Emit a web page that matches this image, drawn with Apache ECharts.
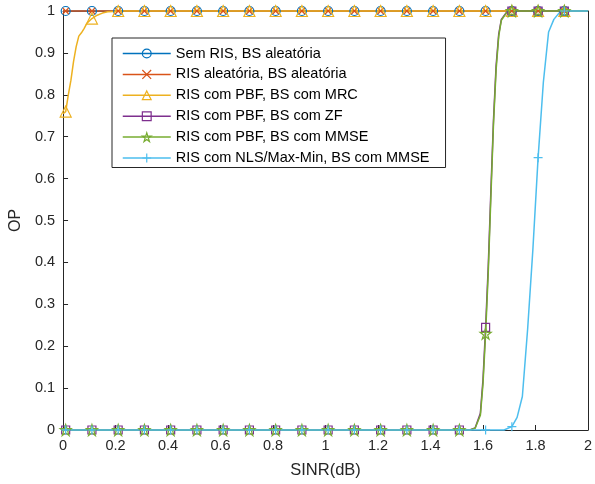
<!DOCTYPE html>
<html>
<head>
<meta charset="utf-8">
<script src="https://cdn.jsdelivr.net/npm/echarts@6/dist/echarts.min.js"></script>
<style>
html, body { margin: 0; padding: 0; background: #fff; overflow: hidden; }
#chart { width: 595px; height: 484px; }
</style>
</head>
<body>
<div id="chart"></div>
<script>
// marker positions (every 10th sample, starting at 0.01)
const markerX = [0.01, 0.11, 0.21, 0.31, 0.41, 0.51, 0.61, 0.71, 0.81, 0.91,
  1.01, 1.11, 1.21, 1.31, 1.41, 1.51, 1.61, 1.71, 1.81, 1.91];

const xTicks = [0, 0.2, 0.4, 0.6, 0.8, 1, 1.2, 1.4, 1.6, 1.8, 2];

const semRisX = [0, 0.01, 0.11, 0.21, 0.31, 0.41, 0.51, 0.61, 0.71, 0.81, 0.91,
  1.01, 1.11, 1.21, 1.31, 1.41, 1.51, 1.61, 1.71, 1.81, 1.91, 2];
const semRisY = [1, 1, 1, 1, 1, 1, 1, 1, 1, 1, 1, 1, 1, 1, 1, 1, 1, 1, 1, 1, 1, 1];

const risAleatX = [0, 0.01, 0.11, 0.21, 0.31, 0.41, 0.51, 0.61, 0.71, 0.81, 0.91,
  1.01, 1.11, 1.21, 1.31, 1.41, 1.51, 1.61, 1.71, 1.81, 1.91, 2];
const risAleatY = [1, 1, 1, 1, 1, 1, 1, 1, 1, 1, 1, 1, 1, 1, 1, 1, 1, 1, 1, 1, 1, 1];

const mrcX = [0, 0.01, 0.02, 0.03, 0.04, 0.05, 0.06, 0.07, 0.08, 0.09, 0.1, 0.11,
  0.13, 0.15, 0.17, 0.19, 0.21, 0.31, 0.41, 0.51, 0.61, 0.71, 0.81, 0.91,
  1.01, 1.11, 1.21, 1.31, 1.41, 1.51, 1.61, 1.71, 1.81, 1.91, 2];
const mrcY = [0.755, 0.76, 0.80, 0.835, 0.88, 0.915, 0.94, 0.948, 0.958, 0.97, 0.976, 0.982,
  0.99, 0.995, 0.998, 0.999, 1, 1, 1, 1, 1, 1, 1, 1,
  1, 1, 1, 1, 1, 1, 1, 1, 1, 1, 1];

const zfX = [0, 0.01, 0.11, 0.21, 0.31, 0.41, 0.51, 0.61, 0.71, 0.81, 0.91,
  1.01, 1.11, 1.21, 1.31, 1.41, 1.51, 1.55, 1.57, 1.59, 1.60, 1.61, 1.62, 1.63,
  1.64, 1.65, 1.66, 1.67, 1.69, 1.71, 1.81, 1.91, 2];
const zfY = [0, 0, 0, 0, 0, 0, 0, 0, 0, 0, 0,
  0, 0, 0, 0, 0, 0, 0, 0.005, 0.04, 0.12, 0.245, 0.39, 0.57,
  0.74, 0.87, 0.945, 0.98, 0.997, 1, 1, 1, 1];

const mmseX = [0, 0.01, 0.11, 0.21, 0.31, 0.41, 0.51, 0.61, 0.71, 0.81, 0.91,
  1.01, 1.11, 1.21, 1.31, 1.41, 1.51, 1.55, 1.57, 1.59, 1.60, 1.61, 1.62, 1.63,
  1.64, 1.65, 1.66, 1.67, 1.69, 1.71, 1.81, 1.91, 2];
const mmseY = [0, 0, 0, 0, 0, 0, 0, 0, 0, 0, 0,
  0, 0, 0, 0, 0, 0, 0, 0.004, 0.035, 0.11, 0.23, 0.375, 0.555,
  0.73, 0.86, 0.94, 0.978, 0.996, 1, 1, 1, 1];

const nlsX = [0, 0.01, 0.11, 0.21, 0.31, 0.41, 0.51, 0.61, 0.71, 0.81, 0.91,
  1.01, 1.11, 1.21, 1.31, 1.41, 1.51, 1.61, 1.68, 1.71, 1.73, 1.75, 1.77,
  1.79, 1.81, 1.83, 1.85, 1.87, 1.89, 1.91, 2];
const nlsY = [0, 0, 0, 0, 0, 0, 0, 0, 0, 0, 0,
  0, 0, 0, 0, 0, 0, 0, 0, 0.008, 0.03, 0.08, 0.24,
  0.43, 0.65, 0.83, 0.95, 0.98, 0.995, 1, 1];

const names = [
  "Sem RIS, BS aleatória",
  "RIS aleatória, BS aleatória",
  "RIS com PBF, BS com MRC",
  "RIS com PBF, BS com ZF",
  "RIS com PBF, BS com MMSE",
  "RIS com NLS/Max-Min, BS com MMSE"
];
const colors = ["#0072BD", "#D95319", "#EDB120", "#7E2F8E", "#77AC30", "#4DBEEE"];

// pentagram outline
function starPath() {
  let pts = [];
  for (let k = 0; k < 10; k++) {
    let r = k % 2 ? 3.8 : 10;
    let a = (-90 + 36 * k) * Math.PI / 180;
    pts.push((10 + r * Math.cos(a)).toFixed(2) + "," + (10 + r * Math.sin(a)).toFixed(2));
  }
  return "path://M" + pts.join("L") + "Z";
}

const symbols = [
  { symbol: "circle", size: 9 },
  { symbol: "path://M0,0L10,10M10,0L0,10", size: 6 },
  { symbol: "triangle", size: 11 },
  { symbol: "rect", size: 8 },
  { symbol: starPath(), size: 11 },
  { symbol: "path://M5,0L5,10M0,5L10,5", size: 9 }
];

const curves = [
  [semRisX, semRisY], [risAleatX, risAleatY], [mrcX, mrcY],
  [zfX, zfY], [mmseX, mmseY], [nlsX, nlsY]
];

function isMarker(x) {
  return markerX.some(m => Math.abs(m - x) < 1e-6);
}

const series = curves.map((c, i) => ({
  name: names[i],
  type: "line",
  xAxisIndex: 0,
  yAxisIndex: 0,
  clip: false,
  showSymbol: true,
  showAllSymbol: true,
  symbol: symbols[i].symbol,
  symbolSize: symbols[i].size,
  lineStyle: { color: colors[i], width: 1.5 },
  itemStyle: { color: "transparent", borderColor: colors[i], borderWidth: 1.2 },
  emphasis: { disabled: true },
  data: c[0].map((x, j) => isMarker(x)
    ? { value: [x, c[1][j]] }
    : { value: [x, c[1][j]], symbol: "none" })
}));

const axisColor = "#262626";
const font = "'Liberation Sans', Arial, Helvetica, sans-serif";

const chart = echarts.init(document.getElementById("chart"), null, { renderer: "canvas" });
chart.setOption({
  animation: false,
  backgroundColor: "#fff",
  textStyle: { fontFamily: font },
  grid: { left: 62, right: 3, top: 11, bottom: 54 },
  legend: {
    orient: "vertical",
    left: 112,
    top: 38,
    padding: [8, 16, 2, 10],
    itemWidth: 48,
    itemHeight: 11,
    itemGap: 5.9,
    backgroundColor: "#fff",
    borderColor: axisColor,
    borderWidth: 1,
    borderRadius: 0,
    textStyle: { fontSize: 14.5, color: "#000", fontFamily: font },
    data: names.map((n, i) => ({
      name: n,
      itemStyle: { color: "transparent", borderColor: colors[i], borderWidth: 1.2 },
      lineStyle: { color: colors[i], width: 1.5 }
    }))
  },
  xAxis: [
    {
      type: "value",
      min: 0,
      max: 2,
      interval: 0.2,
      name: "SINR(dB)",
      nameLocation: "middle",
      nameGap: 32,
      nameTextStyle: { fontSize: 16.5, color: axisColor, fontFamily: font },
      axisLine: { show: true, onZero: false, lineStyle: { color: axisColor, width: 1 } },
      axisTick: { show: true, inside: true, length: 5, lineStyle: { color: axisColor } },
      axisLabel: {
        fontSize: 14.5, color: axisColor, margin: 8, fontFamily: font,
        formatter: v => String(xTicks.find(t => Math.abs(t - v) < 1e-6) ?? v)
      },
      splitLine: { show: false }
    },
    {
      type: "value",
      position: "top",
      min: 0,
      max: 2,
      axisLine: { show: true, onZero: false, lineStyle: { color: axisColor, width: 1 } },
      axisTick: { show: false },
      axisLabel: { show: false },
      splitLine: { show: false }
    }
  ],
  yAxis: [
    {
      type: "value",
      min: 0,
      max: 1,
      interval: 0.1,
      name: "OP",
      nameLocation: "middle",
      nameGap: 35,
      nameRotate: 90,
      nameTextStyle: { fontSize: 16, color: axisColor, fontFamily: font },
      axisLine: { show: true, onZero: false, lineStyle: { color: axisColor, width: 1 } },
      axisTick: { show: true, inside: true, length: 5, lineStyle: { color: axisColor } },
      axisLabel: { fontSize: 14.5, color: axisColor, margin: 8, fontFamily: font },
      splitLine: { show: false }
    },
    {
      type: "value",
      position: "right",
      min: 0,
      max: 1,
      axisLine: { show: true, onZero: false, lineStyle: { color: axisColor, width: 1 } },
      axisTick: { show: false },
      axisLabel: { show: false },
      splitLine: { show: false }
    }
  ],
  series: series
});
</script>
</body>
</html>
